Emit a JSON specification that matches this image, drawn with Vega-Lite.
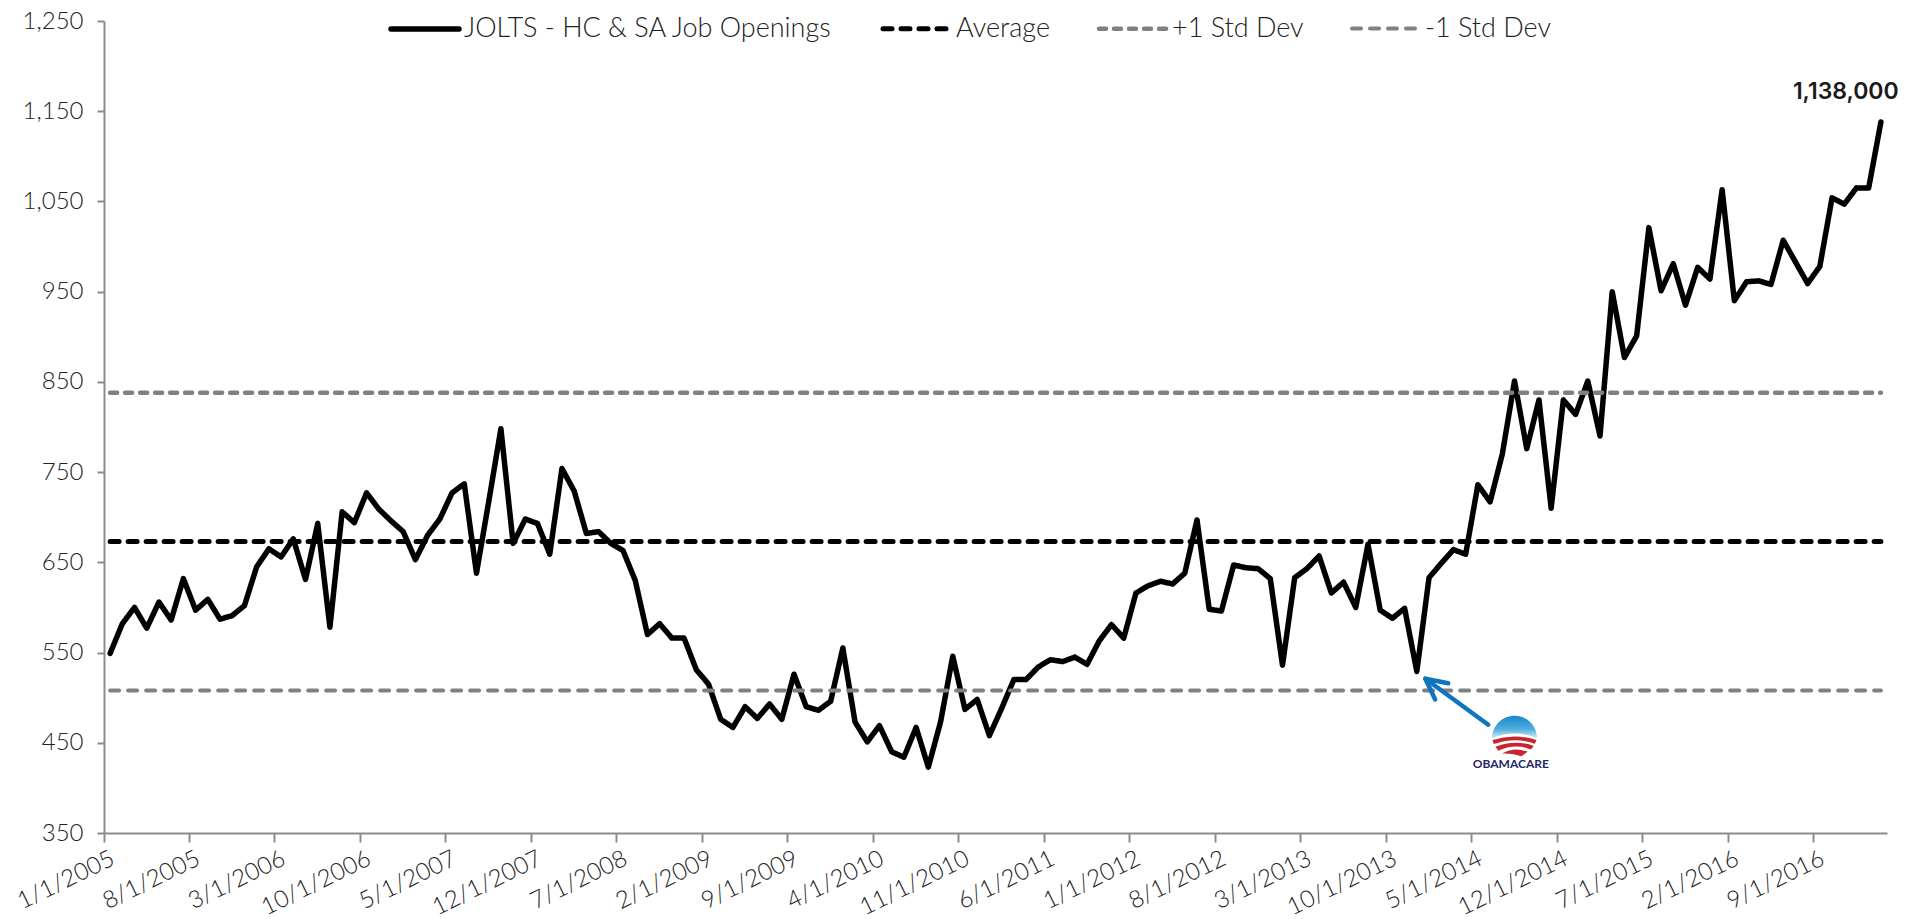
{"$schema":"https://vega.github.io/schema/vega-lite/v6.json","autosize":{"type":"none"},"padding":{"left":104,"top":21,"right":28,"bottom":86},"width":1783,"height":812,"background":"white","config":{"view":{"stroke":null},"font":"Lato"},
"datasets":{"series":[
{"date":"1/1/2005","series":"JOLTS - HC & SA Job Openings","value":549},{"date":"2/1/2005","series":"JOLTS - HC & SA Job Openings","value":582},{"date":"3/1/2005","series":"JOLTS - HC & SA Job Openings","value":600},{"date":"4/1/2005","series":"JOLTS - HC & SA Job Openings","value":577},{"date":"5/1/2005","series":"JOLTS - HC & SA Job Openings","value":606},{"date":"6/1/2005","series":"JOLTS - HC & SA Job Openings","value":586},{"date":"7/1/2005","series":"JOLTS - HC & SA Job Openings","value":632},{"date":"8/1/2005","series":"JOLTS - HC & SA Job Openings","value":597},{"date":"9/1/2005","series":"JOLTS - HC & SA Job Openings","value":609},{"date":"10/1/2005","series":"JOLTS - HC & SA Job Openings","value":587},{"date":"11/1/2005","series":"JOLTS - HC & SA Job Openings","value":591},{"date":"12/1/2005","series":"JOLTS - HC & SA Job Openings","value":602},
{"date":"1/1/2006","series":"JOLTS - HC & SA Job Openings","value":645},{"date":"2/1/2006","series":"JOLTS - HC & SA Job Openings","value":665},{"date":"3/1/2006","series":"JOLTS - HC & SA Job Openings","value":656},{"date":"4/1/2006","series":"JOLTS - HC & SA Job Openings","value":676},{"date":"5/1/2006","series":"JOLTS - HC & SA Job Openings","value":631},{"date":"6/1/2006","series":"JOLTS - HC & SA Job Openings","value":693},{"date":"7/1/2006","series":"JOLTS - HC & SA Job Openings","value":578},{"date":"8/1/2006","series":"JOLTS - HC & SA Job Openings","value":706},{"date":"9/1/2006","series":"JOLTS - HC & SA Job Openings","value":694},{"date":"10/1/2006","series":"JOLTS - HC & SA Job Openings","value":727},{"date":"11/1/2006","series":"JOLTS - HC & SA Job Openings","value":709},{"date":"12/1/2006","series":"JOLTS - HC & SA Job Openings","value":696},
{"date":"1/1/2007","series":"JOLTS - HC & SA Job Openings","value":684},{"date":"2/1/2007","series":"JOLTS - HC & SA Job Openings","value":653},{"date":"3/1/2007","series":"JOLTS - HC & SA Job Openings","value":680},{"date":"4/1/2007","series":"JOLTS - HC & SA Job Openings","value":698},{"date":"5/1/2007","series":"JOLTS - HC & SA Job Openings","value":727},{"date":"6/1/2007","series":"JOLTS - HC & SA Job Openings","value":737},{"date":"7/1/2007","series":"JOLTS - HC & SA Job Openings","value":638},{"date":"8/1/2007","series":"JOLTS - HC & SA Job Openings","value":717},{"date":"9/1/2007","series":"JOLTS - HC & SA Job Openings","value":798},{"date":"10/1/2007","series":"JOLTS - HC & SA Job Openings","value":671},{"date":"11/1/2007","series":"JOLTS - HC & SA Job Openings","value":698},{"date":"12/1/2007","series":"JOLTS - HC & SA Job Openings","value":693},
{"date":"1/1/2008","series":"JOLTS - HC & SA Job Openings","value":659},{"date":"2/1/2008","series":"JOLTS - HC & SA Job Openings","value":754},{"date":"3/1/2008","series":"JOLTS - HC & SA Job Openings","value":729},{"date":"4/1/2008","series":"JOLTS - HC & SA Job Openings","value":682},{"date":"5/1/2008","series":"JOLTS - HC & SA Job Openings","value":684},{"date":"6/1/2008","series":"JOLTS - HC & SA Job Openings","value":671},{"date":"7/1/2008","series":"JOLTS - HC & SA Job Openings","value":663},{"date":"8/1/2008","series":"JOLTS - HC & SA Job Openings","value":630},{"date":"9/1/2008","series":"JOLTS - HC & SA Job Openings","value":570},{"date":"10/1/2008","series":"JOLTS - HC & SA Job Openings","value":582},{"date":"11/1/2008","series":"JOLTS - HC & SA Job Openings","value":566},{"date":"12/1/2008","series":"JOLTS - HC & SA Job Openings","value":566},
{"date":"1/1/2009","series":"JOLTS - HC & SA Job Openings","value":531},{"date":"2/1/2009","series":"JOLTS - HC & SA Job Openings","value":515},{"date":"3/1/2009","series":"JOLTS - HC & SA Job Openings","value":476},{"date":"4/1/2009","series":"JOLTS - HC & SA Job Openings","value":467},{"date":"5/1/2009","series":"JOLTS - HC & SA Job Openings","value":490},{"date":"6/1/2009","series":"JOLTS - HC & SA Job Openings","value":477},{"date":"7/1/2009","series":"JOLTS - HC & SA Job Openings","value":493},{"date":"8/1/2009","series":"JOLTS - HC & SA Job Openings","value":476},{"date":"9/1/2009","series":"JOLTS - HC & SA Job Openings","value":526},{"date":"10/1/2009","series":"JOLTS - HC & SA Job Openings","value":490},{"date":"11/1/2009","series":"JOLTS - HC & SA Job Openings","value":486},{"date":"12/1/2009","series":"JOLTS - HC & SA Job Openings","value":496},
{"date":"1/1/2010","series":"JOLTS - HC & SA Job Openings","value":555},{"date":"2/1/2010","series":"JOLTS - HC & SA Job Openings","value":473},{"date":"3/1/2010","series":"JOLTS - HC & SA Job Openings","value":451},{"date":"4/1/2010","series":"JOLTS - HC & SA Job Openings","value":469},{"date":"5/1/2010","series":"JOLTS - HC & SA Job Openings","value":440},{"date":"6/1/2010","series":"JOLTS - HC & SA Job Openings","value":434},{"date":"7/1/2010","series":"JOLTS - HC & SA Job Openings","value":467},{"date":"8/1/2010","series":"JOLTS - HC & SA Job Openings","value":423},{"date":"9/1/2010","series":"JOLTS - HC & SA Job Openings","value":473},{"date":"10/1/2010","series":"JOLTS - HC & SA Job Openings","value":546},{"date":"11/1/2010","series":"JOLTS - HC & SA Job Openings","value":487},{"date":"12/1/2010","series":"JOLTS - HC & SA Job Openings","value":498},
{"date":"1/1/2011","series":"JOLTS - HC & SA Job Openings","value":458},{"date":"2/1/2011","series":"JOLTS - HC & SA Job Openings","value":488},{"date":"3/1/2011","series":"JOLTS - HC & SA Job Openings","value":520},{"date":"4/1/2011","series":"JOLTS - HC & SA Job Openings","value":520},{"date":"5/1/2011","series":"JOLTS - HC & SA Job Openings","value":534},{"date":"6/1/2011","series":"JOLTS - HC & SA Job Openings","value":542},{"date":"7/1/2011","series":"JOLTS - HC & SA Job Openings","value":540},{"date":"8/1/2011","series":"JOLTS - HC & SA Job Openings","value":545},{"date":"9/1/2011","series":"JOLTS - HC & SA Job Openings","value":537},{"date":"10/1/2011","series":"JOLTS - HC & SA Job Openings","value":563},{"date":"11/1/2011","series":"JOLTS - HC & SA Job Openings","value":581},{"date":"12/1/2011","series":"JOLTS - HC & SA Job Openings","value":566},
{"date":"1/1/2012","series":"JOLTS - HC & SA Job Openings","value":616},{"date":"2/1/2012","series":"JOLTS - HC & SA Job Openings","value":624},{"date":"3/1/2012","series":"JOLTS - HC & SA Job Openings","value":629},{"date":"4/1/2012","series":"JOLTS - HC & SA Job Openings","value":626},{"date":"5/1/2012","series":"JOLTS - HC & SA Job Openings","value":638},{"date":"6/1/2012","series":"JOLTS - HC & SA Job Openings","value":697},{"date":"7/1/2012","series":"JOLTS - HC & SA Job Openings","value":598},{"date":"8/1/2012","series":"JOLTS - HC & SA Job Openings","value":596},{"date":"9/1/2012","series":"JOLTS - HC & SA Job Openings","value":647},{"date":"10/1/2012","series":"JOLTS - HC & SA Job Openings","value":644},{"date":"11/1/2012","series":"JOLTS - HC & SA Job Openings","value":643},{"date":"12/1/2012","series":"JOLTS - HC & SA Job Openings","value":632},
{"date":"1/1/2013","series":"JOLTS - HC & SA Job Openings","value":536},{"date":"2/1/2013","series":"JOLTS - HC & SA Job Openings","value":633},{"date":"3/1/2013","series":"JOLTS - HC & SA Job Openings","value":643},{"date":"4/1/2013","series":"JOLTS - HC & SA Job Openings","value":657},{"date":"5/1/2013","series":"JOLTS - HC & SA Job Openings","value":616},{"date":"6/1/2013","series":"JOLTS - HC & SA Job Openings","value":628},{"date":"7/1/2013","series":"JOLTS - HC & SA Job Openings","value":600},{"date":"8/1/2013","series":"JOLTS - HC & SA Job Openings","value":670},{"date":"9/1/2013","series":"JOLTS - HC & SA Job Openings","value":597},{"date":"10/1/2013","series":"JOLTS - HC & SA Job Openings","value":588},{"date":"11/1/2013","series":"JOLTS - HC & SA Job Openings","value":599},{"date":"12/1/2013","series":"JOLTS - HC & SA Job Openings","value":529},
{"date":"1/1/2014","series":"JOLTS - HC & SA Job Openings","value":633},{"date":"2/1/2014","series":"JOLTS - HC & SA Job Openings","value":649},{"date":"3/1/2014","series":"JOLTS - HC & SA Job Openings","value":664},{"date":"4/1/2014","series":"JOLTS - HC & SA Job Openings","value":659},{"date":"5/1/2014","series":"JOLTS - HC & SA Job Openings","value":736},{"date":"6/1/2014","series":"JOLTS - HC & SA Job Openings","value":717},{"date":"7/1/2014","series":"JOLTS - HC & SA Job Openings","value":770},{"date":"8/1/2014","series":"JOLTS - HC & SA Job Openings","value":851},{"date":"9/1/2014","series":"JOLTS - HC & SA Job Openings","value":776},{"date":"10/1/2014","series":"JOLTS - HC & SA Job Openings","value":830},{"date":"11/1/2014","series":"JOLTS - HC & SA Job Openings","value":710},{"date":"12/1/2014","series":"JOLTS - HC & SA Job Openings","value":830},
{"date":"1/1/2015","series":"JOLTS - HC & SA Job Openings","value":814},{"date":"2/1/2015","series":"JOLTS - HC & SA Job Openings","value":851},{"date":"3/1/2015","series":"JOLTS - HC & SA Job Openings","value":790},{"date":"4/1/2015","series":"JOLTS - HC & SA Job Openings","value":950},{"date":"5/1/2015","series":"JOLTS - HC & SA Job Openings","value":877},{"date":"6/1/2015","series":"JOLTS - HC & SA Job Openings","value":901},{"date":"7/1/2015","series":"JOLTS - HC & SA Job Openings","value":1021},{"date":"8/1/2015","series":"JOLTS - HC & SA Job Openings","value":951},{"date":"9/1/2015","series":"JOLTS - HC & SA Job Openings","value":981},{"date":"10/1/2015","series":"JOLTS - HC & SA Job Openings","value":935},{"date":"11/1/2015","series":"JOLTS - HC & SA Job Openings","value":977},{"date":"12/1/2015","series":"JOLTS - HC & SA Job Openings","value":964},
{"date":"1/1/2016","series":"JOLTS - HC & SA Job Openings","value":1063},{"date":"2/1/2016","series":"JOLTS - HC & SA Job Openings","value":940},{"date":"3/1/2016","series":"JOLTS - HC & SA Job Openings","value":961},{"date":"4/1/2016","series":"JOLTS - HC & SA Job Openings","value":962},{"date":"5/1/2016","series":"JOLTS - HC & SA Job Openings","value":958},{"date":"6/1/2016","series":"JOLTS - HC & SA Job Openings","value":1007},{"date":"7/1/2016","series":"JOLTS - HC & SA Job Openings","value":983},{"date":"8/1/2016","series":"JOLTS - HC & SA Job Openings","value":959},{"date":"9/1/2016","series":"JOLTS - HC & SA Job Openings","value":978},{"date":"10/1/2016","series":"JOLTS - HC & SA Job Openings","value":1054},{"date":"11/1/2016","series":"JOLTS - HC & SA Job Openings","value":1047},{"date":"12/1/2016","series":"JOLTS - HC & SA Job Openings","value":1065},
{"date":"1/1/2017","series":"JOLTS - HC & SA Job Openings","value":1065},{"date":"2/1/2017","series":"JOLTS - HC & SA Job Openings","value":1138},
{"date":"1/1/2005","series":"Average","value":673},{"date":"2/1/2017","series":"Average","value":673},
{"date":"1/1/2005","series":"+1 Std Dev","value":838},{"date":"2/1/2017","series":"+1 Std Dev","value":838},
{"date":"1/1/2005","series":"-1 Std Dev","value":508},{"date":"2/1/2017","series":"-1 Std Dev","value":508}
],
"arrow":[
{"part":"shaft","step":1,"m":113.35,"v":470},{"part":"shaft","step":2,"m":108.2,"v":521},
{"part":"head","step":1,"m":110.07,"v":516},{"part":"head","step":2,"m":108.2,"v":521},{"part":"head","step":3,"m":109.0,"v":498}
],
"logo":[{"m":115.5,"v":458}],
"logotext":[{"m":115.2,"v":427,"label":"OBAMACARE"}]
},
"layer":[
{"layer":[
{"data":{"name":"series"},"mark":{"type":"line","strokeCap":"round","strokeJoin":"round"},
"encoding":{
"x":{"field":"date","type":"ordinal","sort":null,"scale":{"type":"band","paddingInner":0,"paddingOuter":0},"title":null,
"axis":{"values":["1/1/2005","8/1/2005","3/1/2006","10/1/2006","5/1/2007","12/1/2007","7/1/2008","2/1/2009","9/1/2009","4/1/2010","11/1/2010","6/1/2011","1/1/2012","8/1/2012","3/1/2013","10/1/2013","5/1/2014","12/1/2014","7/1/2015","2/1/2016","9/1/2016"],"bandPosition":0,"labelAngle":-26,"labelAlign":"right","labelBaseline":"middle","labelFont":"Lato","labelFontWeight":300,"labelFontSize":24,"labelColor":"#222222","labelPadding":15,"labelOffset":3,"labelOverlap":false,"labelBound":false,"labelFlush":false,"domainColor":"#8c8c8c","domainWidth":2,"tickColor":"#8c8c8c","tickWidth":2,"tickSize":9,"grid":false}},
"y":{"field":"value","type":"quantitative","scale":{"domain":[350,1250],"nice":false,"zero":false},"title":null,
"axis":{"values":[350,450,550,650,750,850,950,1050,1150,1250],"format":",d","labelFont":"Lato","labelFontWeight":300,"labelFontSize":24,"labelColor":"#222222","labelPadding":14,"domainColor":"#8c8c8c","domainWidth":2,"tickColor":"#8c8c8c","tickWidth":2,"tickSize":7,"grid":false}},
"stroke":{"field":"series","type":"nominal","sort":null,"scale":{"domain":["JOLTS - HC & SA Job Openings","Average","+1 Std Dev","-1 Std Dev"],"range":["#000000","#000000","#808080","#808080"]},
"legend":{"title":null,"orient":"none","legendX":284,"legendY":-29,"direction":"horizontal","columns":4,"symbolType":"stroke","symbolSize":4624,"labelFont":"Lato","labelFontWeight":300,"labelFontSize":27,"labelColor":"#222222","labelLimit":500,"columnPadding":40,"labelOffset":2,"encode":{"symbols":{"update":{"strokeCap":{"value":"round"}}}}}},
"strokeDash":{"field":"series","type":"nominal","sort":null,"scale":{"domain":["JOLTS - HC & SA Job Openings","Average","+1 Std Dev","-1 Std Dev"],"range":[[1,0],[9,9],[7,8],[9,9]]},"legend":{"title":null}},
"strokeWidth":{"field":"series","type":"nominal","sort":null,"scale":{"domain":["JOLTS - HC & SA Job Openings","Average","+1 Std Dev","-1 Std Dev"],"range":[5.5,4,3.5,4]},"legend":{"title":null}}
}},
{"data":{"values":[{"date":"2/1/2017","value":1138,"label":"1,138,000"}]},"mark":{"type":"text","align":"left","baseline":"middle","dx":-88,"dy":-30,"font":"Inter","fontWeight":600,"fontSize":23,"color":"#1a1a1a"},
"encoding":{"x":{"field":"date","type":"ordinal","sort":null},"y":{"field":"value","type":"quantitative"},"text":{"field":"label"}}}
]},
{"layer":[
{"data":{"name":"arrow"},"mark":{"type":"line","color":"#0f75bd","strokeWidth":4.5,"strokeCap":"round","strokeJoin":"round"},
"encoding":{"x":{"field":"m","type":"quantitative","scale":{"domain":[0,146],"nice":false,"zero":false},"axis":null},"y":{"field":"v","type":"quantitative"},"detail":{"field":"part"},"order":{"field":"step","type":"quantitative"}}},
{"data":{"name":"logo"},"mark":{"type":"point","filled":true,"size":2025,"strokeWidth":0,"opacity":1,"shape":"M-1,0.12 A1,1 0 0 1 1,0.12 Q0,-0.3 -1,0.12 Z","fill":{"x1":0,"y1":0,"x2":0,"y2":1,"gradient":"linear","stops":[{"offset":0,"color":"#1a86c8"},{"offset":0.6,"color":"#4fb0df"},{"offset":1,"color":"#d5eef8"}]}},
"encoding":{"x":{"field":"m","type":"quantitative"},"y":{"field":"v","type":"quantitative"}}},
{"data":{"name":"logo"},"mark":{"type":"point","filled":true,"size":2025,"strokeWidth":0,"opacity":1,"fill":"#c8262e","shape":"M-0.98,0.2 Q0,-0.12 0.98,0.2 L0.9,0.36 Q0,0.05 -0.92,0.38 Z M-0.85,0.5 Q0,0.15 0.86,0.46 L0.72,0.62 Q0,0.32 -0.72,0.68 Z M-0.55,0.8 Q0,0.48 0.58,0.72 L0.3,0.92 Q-0.1,0.76 -0.55,0.8 Z"},
"encoding":{"x":{"field":"m","type":"quantitative"},"y":{"field":"v","type":"quantitative"}}},
{"data":{"name":"logotext"},"mark":{"type":"text","font":"Lato","fontWeight":700,"fontSize":12,"color":"#1f2a6b","align":"center","baseline":"middle"},
"encoding":{"x":{"field":"m","type":"quantitative"},"y":{"field":"v","type":"quantitative"},"text":{"field":"label"}}}
]}
],
"resolve":{"scale":{"x":"independent"}}}
